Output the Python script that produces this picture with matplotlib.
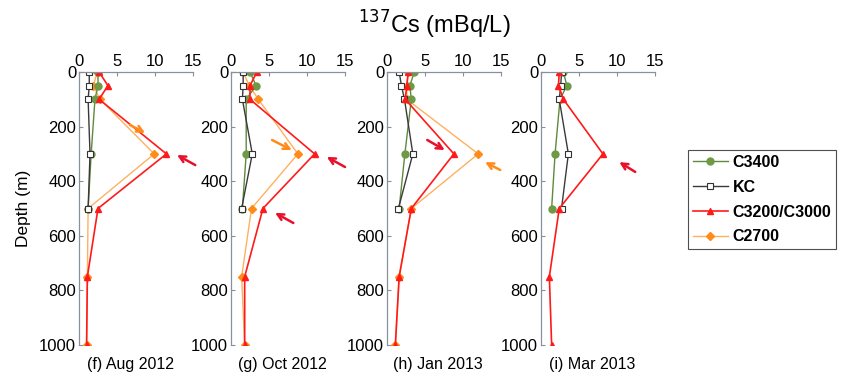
import numpy as np
import matplotlib
matplotlib.use("Agg")
import matplotlib.pyplot as plt

plt.rcParams['font.family'] = ['Liberation Sans', 'DejaVu Sans']

depths = [0, 50, 100, 300, 500, 750, 1000]
panel_titles = ["(f) Aug 2012", "(g) Oct 2012", "(h) Jan 2013", "(i) Mar 2013"]
series_names = ["C3400", "KC", "C3200/C3000", "C2700"]
nan = np.nan

# values per panel (mBq/L) at the depths above; NaN = no sample
c3400 = [
    [2.5, 2.5, 2.1, 1.6, 1.2, nan, nan],
    [2.5, 3.3, 2.0, 2.0, 1.5, nan, nan],
    [3.6, 3.0, 3.2, 2.35, 1.6, nan, nan],
    [2.95, 3.4, 2.5, 1.85, 1.4, nan, nan],
]
kc = [
    [1.35, 1.35, 1.2, 1.45, 1.2, nan, nan],
    [1.6, 1.6, 1.5, 2.8, 1.4, nan, nan],
    [1.6, 1.9, 2.3, 3.4, 1.5, nan, nan],
    [2.7, 2.6, 2.4, 3.6, 2.7, nan, nan],
]
c3200 = [
    [2.65, 3.8, 2.65, 11.5, 2.5, 1.1, 1.0],
    [3.4, 2.5, 2.5, 11.0, 4.2, 1.8, 1.8],
    [2.8, 2.6, 2.4, 8.8, 3.2, 1.6, 1.1],
    [2.4, 2.3, 2.95, 8.15, 2.4, 1.1, 1.4],
]
c2700 = [
    [2.4, 1.9, 2.75, 9.9, 1.2, 1.1, 1.0],
    [1.6, 2.4, 3.6, 8.8, 2.7, 1.4, 1.8],
    [2.8, 2.6, 2.6, 12.0, 3.2, 1.6, 1.1],
    [nan, nan, nan, nan, nan, nan, nan],
]
xticks = [0, 5, 10, 15]
yticks = [0, 200, 400, 600, 800, 1000]

# annotation arrows per panel: (color, tail x, tail y, tip x, tip y) in data units
arrows = [
    [("#ff8c1a", 6.7, 194, 8.7, 223), ("#e8102a", 15.3, 341, 12.9, 304)],
    [("#ff8c1a", 5.4, 249, 8.0, 286), ("#e8102a", 15.0, 348, 12.6, 311),
     ("#e8102a", 8.2, 553, 5.8, 516)],
    [("#e8102a", 5.3, 249, 7.6, 286), ("#ff8c1a", 14.9, 359, 12.9, 330)],
    [("#e8102a", 12.4, 366, 10.3, 330)],
]

col_green = "#5f8a3c"
col_kc = "#3a3a3a"
col_red = "#ff1a1a"
col_orange = "#ffb060"

fig = plt.figure(figsize=(8.55, 3.82), dpi=100)
lefts = [79, 231, 387, 541]
ax_w = 114 / 855
ax_bottom = 1 - 345 / 382
ax_h = (345 - 72) / 382

handles = None
for i in range(4):
    ax = fig.add_axes([lefts[i] / 855, ax_bottom, ax_w, ax_h])
    h4, = ax.plot(c2700[i], depths, '-D', color=col_orange, mfc="#ff8c1a", mec="#ff8c1a",
                  ms=4, lw=1.0)
    h1, = ax.plot(c3400[i], depths, '-o', color=col_green, mfc="#6e9a45", mec="#6e9a45",
                  ms=5, lw=1.0)
    h2, = ax.plot(kc[i], depths, '-s', color=col_kc, mfc="white", mec="#333333",
                  ms=5, lw=1.0, mew=0.8)
    h3, = ax.plot(c3200[i], depths, '-^', color=col_red, mfc=col_red, mec=col_red,
                  ms=5, lw=1.2)
    handles = [h1, h2, h3, h4]
    ax.set_xlim(0, 15)
    ax.set_ylim(1000, 0)
    ax.xaxis.tick_top()
    ax.set_xticks(xticks)
    ax.set_yticks(yticks)
    ax.tick_params(axis='both', labelsize=12, direction='in', length=3,
                   color='#8890a0', pad=2)
    for s in ['right', 'bottom']:
        ax.spines[s].set_visible(False)
    for s in ['left', 'top']:
        ax.spines[s].set_color('#8890a0')
        ax.spines[s].set_linewidth(0.9)
    ax.patch.set_alpha(0)
    ax.text(0.45, -0.045, panel_titles[i], transform=ax.transAxes, ha='center',
            va='top', fontsize=11.5)
    for (c, tx, ty, hx, hy) in arrows[i]:
        ax.annotate("", xy=(hx, hy), xytext=(tx, ty), annotation_clip=False,
                    arrowprops=dict(arrowstyle='->', color=c, lw=1.8,
                                    shrinkA=0, shrinkB=0, mutation_scale=11))
    if i == 0:
        ax.set_ylabel("Depth (m)", fontsize=12.5, labelpad=6)

fig.text(0.508, 0.935, r"$^{137}$Cs (mBq/L)", ha='center', va='center', fontsize=17)

leg = fig.legend(handles, series_names, loc='upper left',
                 bbox_to_anchor=(680 / 855, 1 - 142 / 382), frameon=True,
                 fancybox=False, edgecolor='#222222', handlelength=2.2,
                 handletextpad=0.3, labelspacing=0.62, borderpad=0.3,
                 prop={'weight': 'bold', 'size': 11.5})
leg.get_frame().set_linewidth(0.8)

fig.savefig("out.png", dpi=100)
